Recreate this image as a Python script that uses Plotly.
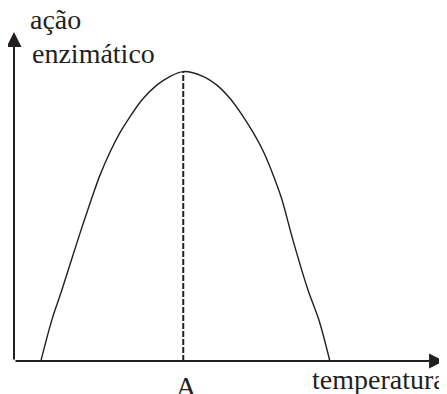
import plotly.graph_objects as go

# curva (unidades arbitrarias)
temperatura = [6.4, 9.0, 11.4, 15.2, 18.5, 20.5, 22.9, 25.2, 27.6, 30.8, 34.0, 37.1, 40.3,
               45.1, 48.3, 51.4, 54.6, 57.0, 59.4, 61.7, 63.7, 66.4, 70.0, 72.6, 75.2]
acao = [0, 12.4, 21.5, 36.7, 49.3, 56.4, 63.4, 69.1, 74.0, 79.6, 83.6, 86.2, 87.7,
        86.2, 83.6, 79.6, 74.0, 69.1, 63.4, 56.4, 49.3, 36.7, 21.5, 12.4, 0]

t_otima = temperatura[acao.index(max(acao))]
ink = '#231f20'
fonte = dict(family='Liberation Serif', size=28, color=ink)

# a pagina tem margem de 8px no body
W, H, OFF = 447, 394, 8


def px(x):
    return (x - OFF) / (W - OFF)


def py(y):
    return 1 - (y - OFF) / (H - OFF)


fig = go.Figure()

fig.add_trace(go.Scatter(x=temperatura, y=acao, mode='lines',
                         line=dict(color=ink, width=1.4, shape='spline', smoothing=0.9),
                         hoverinfo='skip'))

# linha tracejada da temperatura otima
fig.add_trace(go.Scatter(x=[t_otima, t_otima], y=[0, max(acao)], mode='lines',
                         line=dict(color=ink, width=2, dash='6px,2px'),
                         hoverinfo='skip'))

# eixos com setas
fig.add_annotation(x=0, y=99.7, ax=0, ay=0, xref='x', yref='y', axref='x', ayref='y',
                   text='', showarrow=True, arrowhead=2, arrowsize=1.5, arrowwidth=2,
                   arrowcolor=ink)
fig.add_annotation(x=102.4, y=0, ax=0, ay=0, xref='x', yref='y', axref='x', ayref='y',
                   text='', showarrow=True, arrowhead=2, arrowsize=1.5, arrowwidth=2,
                   arrowcolor=ink)

fig.add_annotation(x=px(28), y=py(19.5), xref='paper', yref='paper',
                   text='ação', showarrow=False,
                   xanchor='left', yanchor='middle', font=fonte)
fig.add_annotation(x=px(30), y=py(53.5), xref='paper', yref='paper',
                   text='enzimático', showarrow=False,
                   xanchor='left', yanchor='middle', font=fonte)
fig.add_annotation(x=t_otima, y=py(386), xref='x', yref='paper', xshift=3,
                   text='A', showarrow=False, xanchor='center', yanchor='middle', font=fonte)
fig.add_annotation(x=px(448), y=py(379.5), xref='paper', yref='paper',
                   text='temperatura', showarrow=False, xanchor='right', yanchor='middle',
                   font=fonte)

fig.update_layout(width=W - OFF, height=H - OFF, margin=dict(l=0, r=0, t=0, b=0),
                  paper_bgcolor='white', plot_bgcolor='white', showlegend=False,
                  xaxis=dict(range=[(OFF - 14) / 4.2, (W - 14) / 4.2], visible=False, fixedrange=True),
                  yaxis=dict(range=[(361 - H) / 3.3, (361 - OFF) / 3.3], visible=False, fixedrange=True))

fig.write_html("out.html")
